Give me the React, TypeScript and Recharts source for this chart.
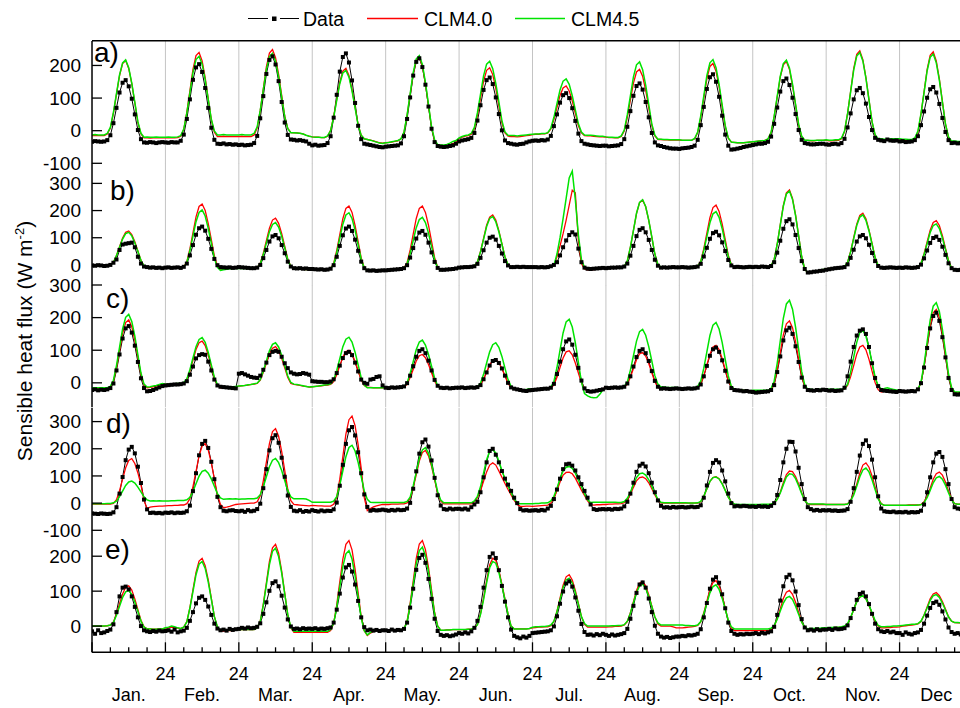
import React from 'react'
import { LineChart, Line, XAxis, YAxis, ReferenceLine } from 'recharts'

const months = ['Jan.', 'Feb.', 'Mar.', 'Apr.', 'May.', 'Jun.', 'Jul.', 'Aug.', 'Sep.', 'Oct.', 'Nov.', 'Dec']

// hourly mean diurnal cycles, one row of 24 values per month (W m-2)
const aObs = [
  [-34,-32,-33,-34,-33,-29,-14,23,70,117,147,155,136,98,50,2,-26,-36,-37,-35,-36,-38,-36,-35],
  [-36,-37,-35,-36,-36,-31,-12,36,96,156,194,204,180,131,70,9,-28,-40,-41,-39,-42,-41,-43,-42],
  [-44,-43,-45,-44,-43,-38,-16,38,106,174,217,228,203,152,88,25,-13,-27,-28,-30,-29,-31,-33,-40],
  [-45,-43,-46,-45,-44,-38,-17,40,110,181,226,237,209,154,85,15,-26,-40,-42,-44,-46,-48,-50,-51],
  [-49,-48,-47,-46,-45,-39,-17,36,102,169,211,222,195,141,74,6,-35,-47,-49,-50,-49,-47,-45,-40],
  [-33,-30,-28,-26,-22,-7,31,78,125,155,163,143,102,51,1,-30,-38,-40,-42,-43,-41,-40,-36,-33],
  [-31,-30,-31,-29,-30,-27,-16,14,50,86,109,115,100,69,30,-9,-32,-40,-42,-44,-45,-46,-47,-46],
  [-46,-48,-47,-46,-45,-41,-26,12,60,107,137,145,126,88,41,-7,-36,-45,-47,-50,-52,-54,-55,-55],
  [-56,-54,-53,-52,-50,-46,-28,17,73,128,164,173,150,104,46,-12,-46,-58,-57,-55,-53,-50,-48,-46],
  [-44,-42,-40,-40,-38,-34,-18,21,71,120,152,160,140,101,51,2,-28,-38,-40,-42,-42,-41,-40,-40],
  [-42,-43,-41,-40,-42,-38,-25,10,53,96,124,131,115,83,42,2,-22,-28,-30,-32,-27,-30,-31,-30],
  [-33,-32,-35,-34,-33,-29,-17,17,59,101,127,134,117,82,39,-4,-29,-38,-37,-39,-38,-40,-38,-38],
]
const aC40 = [
  [-15,-14,-15,-15,-15,-10,8,54,112,169,206,215,191,144,85,25,-10,-22,-22,-23,-22,-22,-22,-22],
  [-22,-21,-22,-22,-21,-17,4,57,122,188,230,240,214,163,98,34,-5,-18,-18,-17,-18,-18,-18,-18],
  [-18,-17,-18,-18,-18,-13,9,62,129,196,238,249,224,173,109,45,7,-6,-7,-7,-8,-10,-14,-17],
  [-19,-20,-20,-21,-21,-17,1,43,96,149,183,191,169,126,72,18,-14,-25,-27,-29,-31,-34,-37,-38],
  [-37,-36,-35,-33,-31,-25,-5,47,110,174,215,225,198,144,77,10,-31,-44,-45,-46,-45,-43,-40,-34],
  [-24,-20,-17,-15,-11,6,47,99,151,185,193,172,130,77,24,-7,-17,-18,-18,-19,-18,-17,-15,-14],
  [-12,-11,-11,-10,-10,-7,5,34,71,108,131,137,122,91,53,15,-7,-15,-16,-16,-17,-18,-19,-19],
  [-20,-21,-21,-22,-22,-18,-1,41,94,146,180,188,167,124,70,16,-16,-27,-27,-28,-28,-29,-29,-29],
  [-29,-30,-30,-30,-30,-25,-6,41,100,159,197,206,182,134,73,13,-23,-35,-36,-37,-37,-37,-36,-35],
  [-34,-33,-32,-31,-30,-25,-6,43,103,164,202,212,188,139,79,18,-18,-30,-30,-31,-31,-30,-30,-30],
  [-30,-31,-31,-30,-30,-25,-3,53,121,190,234,245,218,163,95,27,-14,-28,-28,-29,-29,-28,-28,-28],
  [-29,-30,-30,-31,-31,-26,-4,51,119,187,231,242,214,159,90,21,-20,-34,-34,-35,-35,-35,-35,-35],
]
const aC45 = [
  [-13,-12,-13,-13,-13,-8,10,56,114,171,208,217,193,146,87,27,-8,-20,-19,-20,-20,-19,-20,-20],
  [-20,-19,-20,-20,-19,-15,5,54,116,178,218,228,204,156,95,35,-1,-13,-13,-12,-13,-13,-13,-13],
  [-13,-12,-13,-13,-13,-8,12,62,125,187,227,237,213,164,103,43,6,-6,-6,-7,-8,-10,-14,-17],
  [-19,-20,-20,-21,-21,-16,0,41,93,144,177,185,164,122,70,17,-14,-25,-27,-29,-32,-35,-38,-39],
  [-37,-36,-34,-32,-30,-25,-4,48,113,178,220,230,203,148,80,12,-28,-42,-44,-44,-42,-38,-33,-30],
  [-22,-18,-15,-13,-8,10,55,111,168,204,213,190,145,88,31,-4,-14,-15,-15,-16,-15,-14,-13,-12],
  [-11,-10,-10,-9,-9,-6,8,41,83,125,152,159,142,107,64,21,-4,-13,-14,-14,-15,-16,-17,-17],
  [-19,-20,-20,-21,-21,-16,2,49,107,165,202,211,187,140,81,21,-14,-26,-26,-27,-27,-28,-28,-28],
  [-28,-29,-29,-29,-29,-24,-4,45,107,169,208,218,193,142,79,16,-22,-35,-36,-37,-37,-37,-36,-35],
  [-34,-33,-32,-31,-30,-25,-5,44,105,167,206,216,192,143,81,20,-17,-29,-29,-30,-30,-29,-29,-29],
  [-28,-29,-29,-28,-28,-23,-1,52,119,186,229,240,214,161,94,28,-12,-25,-25,-26,-26,-25,-25,-25],
  [-25,-26,-26,-27,-27,-22,-1,52,117,183,225,235,208,155,88,21,-19,-32,-32,-33,-33,-33,-33,-33],
]

const bObs = [
  [-2,-3,-1,-2,-4,-3,0,8,20,55,75,78,80,82,65,30,5,-6,-8,-10,-9,-11,-10,-12],
  [-10,-9,-11,-10,-9,-11,-7,5,35,73,111,135,141,126,96,59,22,-1,-8,-9,-10,-9,-11,-10],
  [-8,-9,-10,-11,-12,-12,-10,0,25,55,86,105,110,98,73,43,12,-6,-12,-13,-12,-14,-13,-15],
  [-15,-16,-17,-16,-18,-17,-14,-1,30,70,109,134,141,125,93,52,12,-12,-20,-21,-20,-22,-21,-20],
  [-20,-19,-18,-17,-16,-15,-12,-1,27,62,97,119,125,111,82,46,11,-11,-18,-18,-17,-16,-15,-13],
  [-10,-9,-8,-8,-7,-5,4,26,54,82,100,104,93,70,42,14,-2,-8,-8,-7,-8,-7,-8,-8],
  [-8,-8,-9,-8,-9,-8,-5,0,10,35,65,90,110,120,112,60,10,-10,-14,-15,-14,-13,-12,-11],
  [-12,-11,-10,-10,-9,-9,-6,5,34,70,106,129,135,120,92,55,19,-3,-10,-9,-10,-9,-8,-9],
  [-9,-8,-9,-10,-9,-8,-6,4,31,63,96,117,122,109,83,51,18,-2,-8,-7,-8,-9,-8,-7],
  [-8,-7,-8,-6,-7,-8,-4,10,45,89,133,161,168,149,110,62,14,-15,-28,-27,-25,-24,-22,-21],
  [-18,-16,-14,-12,-11,-10,-8,2,26,56,86,105,110,98,74,44,14,-4,-10,-11,-10,-9,-10,-11],
  [-10,-11,-9,-10,-11,-10,-8,1,24,53,81,99,104,92,67,37,6,-12,-18,-19,-18,-20,-19,-20],
]
const bC40 = [
  [-3,-3,-3,-3,-3,-3,0,10,35,67,99,120,125,112,85,51,17,-3,-10,-11,-11,-12,-12,-12],
  [-12,-12,-12,-12,-12,-12,-7,12,59,118,177,215,224,200,152,93,33,-3,-15,-14,-13,-13,-13,-13],
  [-13,-13,-13,-13,-13,-13,-9,6,43,89,135,165,172,153,116,69,22,-6,-15,-15,-16,-16,-17,-17],
  [-18,-18,-18,-18,-18,-18,-13,6,53,111,170,208,217,193,145,86,26,-10,-22,-22,-23,-23,-22,-22],
  [-20,-19,-18,-17,-16,-15,-10,8,55,113,171,208,217,193,146,87,27,-8,-20,-19,-18,-17,-16,-15],
  [-12,-10,-9,-8,-8,-4,11,50,98,146,176,184,165,126,78,30,2,-8,-8,-8,-8,-8,-8,-9],
  [-10,-10,-10,-10,-10,-10,-8,-3,30,70,115,165,220,275,265,90,5,-15,-18,-18,-17,-15,-13,-12],
  [-11,-10,-10,-10,-10,-10,-5,15,65,127,189,229,239,214,164,102,40,2,-10,-10,-10,-10,-10,-10],
  [-9,-9,-9,-9,-9,-9,-4,14,60,117,174,211,220,197,151,94,36,2,-10,-10,-10,-10,-10,-10],
  [-8,-8,-8,-8,-8,-8,-2,20,77,148,219,265,276,245,184,108,31,-15,-30,-28,-25,-22,-19,-17],
  [-15,-13,-12,-11,-10,-10,-6,10,50,100,150,182,190,170,129,79,28,-2,-12,-12,-11,-11,-11,-11],
  [-11,-11,-11,-11,-11,-11,-8,6,41,85,128,156,163,145,108,62,17,-11,-20,-20,-20,-20,-20,-20],
]
const bC45 = [
  [-3,-3,-3,-3,-3,-3,0,9,34,65,95,115,120,107,81,49,16,-3,-10,-11,-11,-12,-12,-12],
  [-12,-12,-12,-12,-12,-12,-8,9,52,106,159,193,202,180,135,80,24,-9,-20,-18,-16,-14,-13,-13],
  [-13,-13,-13,-13,-13,-13,-10,4,38,80,122,149,156,139,105,62,19,-6,-15,-15,-16,-16,-17,-17],
  [-18,-18,-18,-18,-18,-18,-14,3,45,98,150,184,192,171,128,74,21,-11,-22,-22,-23,-23,-22,-22],
  [-20,-19,-18,-17,-16,-15,-11,4,42,90,137,167,175,156,117,68,19,-10,-20,-19,-18,-17,-16,-15],
  [-12,-10,-9,-8,-8,-4,11,48,94,141,171,178,159,122,76,29,1,-8,-8,-8,-8,-8,-8,-9],
  [-10,-10,-10,-10,-10,-10,-8,-2,40,100,170,245,320,345,240,110,20,-10,-14,-15,-15,-14,-13,-12],
  [-10,-10,-10,-10,-10,-10,-5,15,65,127,190,230,240,215,165,103,40,2,-9,-9,-9,-9,-9,-9],
  [-9,-9,-9,-9,-9,-9,-5,12,53,104,155,188,196,175,134,82,31,0,-10,-10,-10,-10,-10,-10],
  [-8,-8,-8,-8,-8,-8,-2,19,76,146,216,261,272,241,181,106,30,-15,-30,-28,-25,-22,-19,-17],
  [-15,-13,-12,-11,-10,-10,-6,9,48,97,145,176,184,164,125,76,27,-2,-12,-12,-11,-11,-11,-11],
  [-11,-11,-11,-11,-11,-11,-8,5,38,78,119,145,151,134,99,57,14,-12,-20,-20,-20,-20,-20,-20],
]

const cObs = [
  [-22,-20,-23,-21,-22,-20,-16,-2,38,87,136,167,174,154,114,64,14,-16,-26,-25,-22,-18,-14,-10],
  [-8,-7,-6,-5,-5,-4,-2,5,25,50,75,85,88,86,65,38,10,-8,-12,-13,-14,-15,-16,-17],
  [28,30,26,22,18,16,15,22,40,62,85,95,98,95,80,60,45,32,28,26,27,30,28,25],
  [5,4,3,3,2,2,4,11,30,53,76,91,95,85,62,35,10,0,-3,10,12,18,20,-8],
  [-15,-16,-14,-15,-14,-13,-11,-1,22,51,80,98,103,91,68,38,9,-9,-15,-16,-15,-17,-16,-15],
  [-15,-14,-16,-15,-14,-15,-13,-7,11,32,53,67,70,61,44,22,0,-14,-18,-20,-22,-24,-25,-23],
  [-22,-21,-20,-19,-18,-18,-15,-3,27,65,103,127,133,117,86,46,7,-17,-25,-27,-26,-24,-22,-20],
  [-15,-16,-15,-14,-15,-14,-12,-2,20,50,79,98,103,91,67,36,6,-12,-18,-17,-18,-19,-18,-17],
  [-18,-19,-18,-17,-18,-17,-15,-5,20,52,83,103,108,95,69,37,4,-16,-22,-23,-24,-26,-25,-27],
  [-28,-30,-29,-28,-27,-26,-22,-7,33,81,130,161,169,150,112,64,16,-12,-22,-23,-24,-22,-23,-21],
  [-22,-24,-23,-25,-24,-23,-15,20,65,110,145,160,164,150,110,60,15,-10,-22,-24,-25,-26,-27,-28],
  [-25,-26,-27,-26,-25,-26,-20,-1,47,107,167,205,215,190,140,78,15,-22,-35,-36,-35,-37,-36,-35],
]
const cC40 = [
  [-17,-17,-17,-17,-17,-17,-13,4,46,99,151,185,193,172,130,78,25,-7,-15,-14,-12,-10,-7,-4],
  [-5,-5,-4,-4,-3,-3,0,10,36,69,102,123,128,114,85,49,14,-8,-15,-15,-15,-15,-14,-13],
  [-10,-9,-8,-7,-5,-4,-2,8,32,60,89,106,111,99,75,46,16,-2,-5,-6,-8,-10,-11,-13],
  [-12,-11,-10,-9,-8,-7,-5,4,25,52,79,96,100,89,66,37,9,-8,-14,-14,-15,-15,-15,-15],
  [-15,-15,-15,-15,-15,-15,-13,-5,16,41,67,83,87,77,56,31,5,-10,-15,-15,-15,-15,-15,-15],
  [-15,-15,-15,-15,-15,-15,-13,-6,11,33,55,69,72,63,44,21,-2,-15,-20,-21,-22,-22,-21,-20],
  [-20,-20,-19,-19,-18,-18,-16,-6,17,47,76,95,98,86,61,30,0,-19,-25,-27,-28,-26,-22,-18],
  [-15,-15,-15,-15,-15,-15,-13,-4,17,44,71,89,93,82,59,31,3,-14,-20,-20,-20,-20,-20,-20],
  [-18,-18,-18,-18,-18,-18,-15,-5,22,55,88,110,115,102,75,41,7,-13,-20,-21,-22,-23,-24,-25],
  [-25,-25,-26,-26,-25,-25,-21,-4,40,93,147,181,190,169,126,73,20,-11,-22,-22,-22,-22,-22,-22],
  [-22,-22,-22,-22,-22,-22,-19,-8,19,53,88,110,115,101,72,36,1,-21,-28,-26,-25,-24,-24,-25],
  [-25,-25,-25,-25,-25,-25,-20,0,50,113,175,215,225,200,149,85,21,-17,-30,-30,-30,-30,-30,-30],
]
const cC45 = [
  [-15,-15,-15,-15,-15,-15,-11,8,53,109,165,201,210,188,143,86,30,-4,-13,-12,-10,-8,-5,-2],
  [-4,-4,-3,-3,-2,-2,1,12,40,76,111,133,139,124,93,55,17,-5,-13,-13,-13,-13,-12,-11],
  [-10,-9,-8,-6,-5,-3,-1,10,36,67,98,118,123,110,85,53,21,1,-4,-5,-7,-9,-11,-13],
  [-12,-11,-10,-8,-7,-6,-3,9,38,74,111,134,140,125,94,55,16,-7,-15,-15,-15,-15,-15,-15],
  [-15,-15,-15,-15,-15,-15,-12,0,29,65,102,125,131,116,87,51,14,-8,-15,-15,-15,-15,-15,-15],
  [-15,-15,-15,-15,-15,-15,-12,-1,26,61,95,117,123,109,81,45,10,-11,-18,-20,-22,-22,-20,-18],
  [-20,-19,-18,-18,-17,-17,-13,4,47,100,153,187,195,171,123,63,3,-33,-40,-44,-46,-45,-35,-22],
  [-15,-15,-15,-15,-15,-15,-11,3,39,83,128,157,164,146,111,67,22,-4,-13,-13,-14,-14,-14,-14],
  [-15,-15,-15,-15,-15,-15,-11,5,45,95,145,177,185,165,124,72,21,-10,-20,-21,-22,-23,-24,-25],
  [-23,-23,-23,-23,-23,-23,-17,5,60,129,198,242,253,226,171,103,35,-6,-20,-20,-21,-21,-20,-20],
  [-20,-20,-20,-20,-20,-20,-18,-4,33,79,124,154,161,143,107,63,18,-9,-18,-17,-15,-18,-20,-22],
  [-25,-25,-25,-24,-24,-24,-20,2,56,124,192,235,246,219,164,95,27,-14,-28,-28,-28,-28,-28,-28],
]

const dObs = [
  [-38,-39,-40,-38,-39,-40,-39,-34,-15,35,96,158,197,207,183,134,74,13,-23,-36,-35,-37,-36,-38],
  [-35,-36,-34,-37,-35,-36,-35,-30,-9,44,110,176,218,229,203,152,88,23,-15,-28,-30,-27,-26,-29],
  [-30,-28,-32,-26,-30,-28,-22,-2,55,125,194,239,250,222,167,97,28,-14,-28,-30,-26,-32,-29,-31],
  [-26,-29,-31,-27,-30,-28,-29,-23,2,64,141,218,268,280,249,187,110,32,-14,-28,-25,-27,-26,-24],
  [-26,-28,-25,-27,-24,-26,-25,-20,1,53,117,182,224,234,208,157,93,29,-9,-22,-24,-20,-23,-21],
  [-21,-23,-20,-24,-15,-5,5,40,95,150,192,200,178,150,118,90,68,45,20,0,-22,-27,-26,-28],
  [-27,-26,-28,-25,-27,-20,-10,15,50,90,125,143,145,138,120,95,70,45,20,-5,-22,-25,-23,-22],
  [-23,-22,-24,-21,-22,-20,-12,5,35,75,115,138,145,135,110,75,40,10,-10,-16,-15,-17,-14,-16],
  [-15,-14,-16,-15,-13,-15,-14,-8,20,65,115,148,158,150,120,80,35,0,-12,-10,-12,-10,-11,-13],
  [-12,-14,-11,-13,-12,-14,-10,0,30,85,150,200,226,225,190,130,70,15,-15,-22,-27,-25,-28,-26],
  [-27,-26,-28,-27,-29,-28,-27,-22,5,55,115,175,218,231,210,160,95,25,-20,-30,-32,-33,-31,-34],
  [-33,-34,-32,-35,-33,-34,-33,-28,-5,40,95,150,182,188,170,125,70,15,-15,-20,-22,-21,-20,-21],
]
const dC40 = [
  [-4,-4,-4,-4,-4,-4,-4,-1,13,46,88,130,157,164,146,111,67,10,-20,-15,-13,-12,-11,-11],
  [-10,-9,-9,-8,-8,-7,-7,-2,16,61,117,174,210,219,195,148,89,30,-5,-17,-15,-12,-8,-5],
  [-4,-3,-2,-1,0,0,5,27,82,151,219,263,274,246,190,121,51,9,-5,-6,-7,-8,-9,-10],
  [-8,-9,-10,-10,-11,-11,-11,-4,22,88,171,254,307,320,285,215,128,20,-28,-20,-14,-10,-7,-5],
  [-5,-5,-4,-4,-4,-3,-3,1,17,56,105,155,186,194,174,135,86,36,7,-3,-3,-3,-3,-3],
  [-3,-3,-3,-3,-3,5,20,45,80,115,140,148,140,118,95,72,50,30,10,-5,-12,-12,-11,-11],
  [-12,-11,-10,-9,-8,-7,0,18,45,78,103,113,114,108,92,70,48,28,8,-5,-7,-6,-6,-5],
  [-5,-4,-4,-3,-3,-2,2,12,32,58,82,94,96,90,75,53,30,10,1,0,0,0,0,0],
  [0,0,0,0,0,0,0,5,25,52,80,94,97,90,72,48,22,5,-5,-8,-10,-10,-10,-10],
  [-10,-9,-8,-8,-7,-6,-5,0,15,40,75,105,118,116,98,70,38,10,-3,-5,-5,-5,-5,-5],
  [-5,-5,-5,-5,-5,-5,-5,-3,10,35,70,110,140,148,132,100,60,20,-2,-8,-8,-8,-8,-8],
  [-8,-8,-8,-7,-7,-7,-7,-5,5,25,55,88,108,114,103,78,45,15,-2,-4,-4,-4,-4,-4],
]
const dC45 = [
  [-2,-2,-2,-2,-2,-1,-1,1,7,24,44,65,78,81,74,59,41,23,12,8,9,8,9,8],
  [8,8,9,9,10,10,10,12,21,43,71,99,117,121,110,89,62,35,19,14,15,16,15,16],
  [14,15,15,16,16,16,19,31,60,97,134,158,164,149,120,83,46,23,16,16,16,16,15,10],
  [3,3,3,3,3,3,3,7,24,66,119,171,205,213,192,150,98,45,14,3,2,2,2,2],
  [2,2,2,2,2,2,2,6,22,63,113,164,196,204,184,143,92,42,11,1,1,1,1,1],
  [1,1,1,1,1,8,25,60,110,160,192,197,185,155,120,90,62,38,15,0,-2,-2,-2,-2],
  [-2,-1,-1,0,0,1,8,25,55,90,118,132,135,128,110,85,60,35,12,2,3,3,3,3],
  [3,3,3,3,2,2,6,18,40,68,94,108,111,103,86,62,36,14,3,1,1,1,1,1],
  [1,1,1,0,0,0,1,6,26,53,80,94,96,89,71,47,22,4,-3,-5,-5,-5,-5,-5],
  [-5,-5,-5,-4,-4,-4,-3,0,14,37,68,96,108,106,90,64,35,9,-2,-3,-3,-3,-3,-3],
  [-5,-5,-5,-5,-5,-5,-5,-3,8,30,62,97,122,129,115,86,50,15,-3,-8,-8,-8,-8,-8],
  [-8,-8,-8,-8,-8,-8,-7,-6,2,20,47,75,93,98,88,66,38,12,-2,-4,-4,-4,-4,-4],
]

const eObs = [
  [-15,-22,-12,-20,-18,-14,-10,5,40,85,110,113,105,85,55,25,0,-12,-15,-17,-14,-16,-13,-15],
  [-14,-12,-16,-10,-18,-15,-13,-5,15,40,65,81,85,75,56,32,7,-7,-12,-10,-13,-8,-11,-9],
  [-8,-5,-7,-4,-6,-5,-2,8,35,68,101,123,128,114,87,53,19,-1,-8,-7,-9,-6,-8,-7],
  [-8,-6,-9,-7,-8,-6,-4,10,47,93,139,168,175,156,119,72,25,-3,-12,-10,-13,-11,-14,-12],
  [-12,-14,-10,-13,-11,-12,-8,10,53,107,161,195,204,181,135,78,21,-14,-25,-28,-26,-29,-27,-24],
  [-20,-22,-18,-21,-15,-5,15,55,110,160,198,208,195,160,115,70,25,-10,-28,-32,-35,-30,-33,-28],
  [-20,-19,-18,-17,-16,-15,-12,-1,28,64,99,122,128,113,82,44,6,-17,-25,-24,-27,-23,-26,-22],
  [-25,-28,-24,-27,-25,-23,-20,-8,21,58,95,119,125,110,79,40,1,-22,-30,-33,-31,-34,-32,-30],
  [-30,-28,-29,-26,-27,-25,-22,-9,25,66,107,133,140,124,91,51,10,-14,-22,-25,-23,-24,-22,-23],
  [-22,-20,-23,-19,-21,-18,-15,-2,32,73,114,140,147,131,99,60,20,-4,-12,-10,-13,-9,-12,-10],
  [-10,-8,-11,-7,-9,-8,-6,2,23,49,75,92,96,85,63,35,7,-9,-15,-17,-14,-18,-16,-20],
  [-20,-25,-18,-22,-24,-20,-18,-11,7,30,52,66,70,61,42,19,-4,-17,-22,-20,-24,-21,-23,-22],
]
const eC40 = [
  [0,0,0,0,0,1,3,12,35,64,92,111,115,103,78,47,17,-2,-8,-8,-9,-9,-8,-8],
  [-6,-5,-3,-5,-6,-7,-3,13,53,104,154,186,194,173,132,80,28,-4,-14,-14,-13,-13,-13,-12],
  [-10,-10,-10,-10,-10,-10,-5,14,63,124,185,224,234,209,158,95,32,-5,-18,-18,-18,-18,-18,-18],
  [-18,-18,-18,-18,-18,-18,-13,8,61,127,192,234,245,218,163,95,27,-13,-27,-20,-15,-13,-12,-12],
  [-12,-12,-12,-12,-12,-12,-7,14,65,129,194,235,245,219,168,104,39,1,-12,-12,-11,-11,-10,-10],
  [-10,-10,-10,-9,-8,-6,5,35,80,130,175,194,188,160,120,78,35,0,-8,-8,-8,-8,-8,-7],
  [-5,-4,-3,-3,-2,-2,1,13,43,80,117,141,147,132,102,65,27,5,-3,-3,-3,-3,-3,-3],
  [-3,-2,-2,-1,-1,0,3,13,38,70,102,123,128,115,90,58,26,6,0,0,0,0,-2,-5],
  [-5,-5,-4,-3,-2,-1,2,12,38,71,104,125,130,116,87,51,16,-6,-13,-13,-13,-13,-13,-13],
  [-13,-13,-13,-13,-13,-13,-11,-2,22,50,79,97,102,91,68,40,12,-4,-10,-9,-9,-8,-8,-7],
  [-6,-5,-5,-4,-4,-3,-1,6,24,47,69,83,87,78,59,36,13,0,-5,-5,-4,-4,-3,-3],
  [-2,0,1,2,3,4,6,13,32,55,78,92,96,87,70,49,27,14,10,9,9,8,8,8],
]
const eC45 = [
  [0,0,0,0,0,1,3,11,31,57,82,98,102,91,69,42,14,-3,-8,-8,-9,-9,-8,-8],
  [-5,-3,0,-2,-5,-7,-3,12,51,99,147,177,185,165,126,77,27,-2,-12,-12,-12,-12,-12,-11],
  [-10,-10,-10,-10,-10,-10,-5,13,60,118,176,214,223,199,152,92,33,-3,-15,-15,-15,-15,-15,-15],
  [-15,-15,-15,-15,-15,-15,-10,8,54,112,170,207,216,192,144,83,23,-13,-25,-18,-14,-12,-11,-11],
  [-12,-12,-12,-12,-12,-12,-7,12,59,119,178,216,226,202,155,95,36,0,-12,-12,-11,-11,-10,-10],
  [-10,-10,-10,-9,-8,-6,4,33,76,124,167,185,180,154,116,75,34,0,-8,-8,-8,-8,-8,-7],
  [-3,-2,-2,-1,-1,0,3,14,41,75,110,132,137,123,96,62,27,7,0,0,0,0,0,0],
  [0,0,1,1,2,2,4,14,37,67,96,115,120,108,85,56,26,9,3,3,3,3,3,3],
  [3,3,2,2,1,1,3,13,36,65,95,113,118,105,80,49,17,-2,-8,-8,-8,-8,-8,-8],
  [-8,-8,-8,-8,-8,-8,-6,1,20,43,66,81,85,76,57,34,11,-3,-8,-7,-7,-6,-6,-5],
  [-5,-4,-4,-3,-3,-2,0,7,25,47,69,83,87,78,60,38,16,2,-2,-2,-1,-1,0,0],
  [1,2,3,4,5,5,7,14,31,52,73,87,90,82,66,46,26,14,10,10,9,9,9,9],
]

const FONT = '"Liberation Sans", Arial, Helvetica, sans-serif'
const PLOT_LEFT = 92
const CHART_W = 973
const PLOT_H = 122.3
const PAD = 14
const AXIS_H = 56
const GREEN = '#00e400'
const RED = '#ff0000'

const panels = [
  { id: 'a', top: 40.7, domain: [-100, 275], ticks: [-100, 0, 100, 200], obs: aObs, c40: aC40, c45: aC45, lx: 94, ly: 62 },
  { id: 'b', top: 163, domain: [-75, 375], ticks: [0, 100, 200, 300], obs: bObs, c40: bC40, c45: bC45, lx: 110, ly: 200 },
  { id: 'c', top: 285.3, domain: [-75, 300], ticks: [0, 100, 200, 300], obs: cObs, c40: cC40, c45: cC45, lx: 106, ly: 308 },
  { id: 'd', top: 407.6, domain: [-100, 350], ticks: [-100, 0, 100, 200, 300], obs: dObs, c40: dC40, c45: dC45, lx: 106, ly: 433 },
  { id: 'e', top: 529.9, domain: [-75, 275], ticks: [0, 100, 200], obs: eObs, c40: eC40, c45: eC45, lx: 105, ly: 559 },
]

const hourTicks = months.flatMap((_, m) => [0, 6, 12, 18].map((h) => m * 24 + h)).concat(288)

function buildRows(obs: number[][], c40: number[][], c45: number[][]) {
  const rows: any[] = []
  months.forEach((_, m) => {
    for (let h = 0; h < 24; h++) {
      rows.push({ t: m * 24 + h, obs: obs[m][h], c40: c40[m][h], c45: c45[m][h] })
    }
  })
  return rows
}

const XTick = ({ x, y, payload, last }: any) => {
  const v = payload.value
  const major = v % 24 === 0
  return (
    <g>
      <line x1={x} x2={x} y1={y} y2={y - (major ? 10 : 5)} stroke="#000" strokeWidth={1.3} />
      {last && major && v > 0 && v < 288 && (
        <text x={x} y={y + 28} textAnchor="middle" fontSize={18} fontFamily={FONT} fill="#000">24</text>
      )}
      {last && v % 24 === 12 && (
        <text x={x} y={y + 49} textAnchor="middle" fontSize={18} fontFamily={FONT} fill="#000">{months[Math.floor(v / 24)]}</text>
      )}
    </g>
  )
}

const YTick = ({ x, y, payload }: any) => (
  <g>
    <line x1={x} x2={x + 10} y1={y} y2={y} stroke="#000" strokeWidth={1.3} />
    <text x={x - 11} y={y} dy="0.35em" textAnchor="end" fontSize={19} fontFamily={FONT} fill="#000">{payload.value}</text>
  </g>
)

const squareDot = (p: any) => {
  if (p.cx == null || p.cy == null) return <g key={`n${p.index}`} />
  return <rect key={`s${p.index}`} x={p.cx - 2} y={p.cy - 2} width={4} height={4} fill="#000" />
}

function Panel({ p, last }: { p: any; last: boolean }) {
  const rows = buildRows(p.obs, p.c40, p.c45)
  const h = PAD + PLOT_H + (last ? AXIS_H : PAD)
  return (
    <div style={{ position: 'absolute', left: 0, top: p.top - PAD }}>
      <LineChart width={CHART_W} height={h} data={rows} margin={{ top: PAD, right: 0, bottom: last ? 0 : PAD, left: 0 }}>
        {months.slice(1).map((_, i) => (
          <ReferenceLine key={i} x={(i + 1) * 24} stroke="#c4c4c4" strokeWidth={1} />
        ))}
        <XAxis
          dataKey="t"
          type="number"
          domain={[0, 288]}
          ticks={hourTicks}
          interval={0}
          allowDataOverflow
          height={last ? AXIS_H : 0}
          tickSize={0}
          tickMargin={0}
          tickLine={false}
          axisLine={{ stroke: '#000', strokeWidth: 1.5 }}
          tick={(tp: any) => <XTick {...tp} last={last} />}
        />
        <YAxis
          type="number"
          domain={p.domain}
          ticks={p.ticks}
          interval={0}
          allowDataOverflow
          width={PLOT_LEFT}
          tickSize={0}
          tickMargin={0}
          tickLine={false}
          axisLine={{ stroke: '#000', strokeWidth: 1.5 }}
          tick={<YTick />}
        />
        <Line type="linear" dataKey="obs" stroke="#000" strokeWidth={1} dot={squareDot} activeDot={false} isAnimationActive={false} />
        <Line type="linear" dataKey="c40" stroke={RED} strokeWidth={1.3} dot={false} activeDot={false} isAnimationActive={false} />
        <Line type="linear" dataKey="c45" stroke={GREEN} strokeWidth={1.5} dot={false} activeDot={false} isAnimationActive={false} />
      </LineChart>
    </div>
  )
}

export default function App() {
  return (
    <div style={{ position: 'fixed', left: 0, top: 0, width: 960, height: 708, overflow: 'hidden', background: '#fff' }}>
      {panels.map((p, i) => (
        <Panel key={p.id} p={p} last={i === panels.length - 1} />
      ))}
      <svg width={960} height={708} style={{ position: 'absolute', left: 0, top: 0, pointerEvents: 'none' }} fontFamily={FONT}>
        <line x1={PLOT_LEFT} x2={960} y1={40.7} y2={40.7} stroke="#000" strokeWidth={1.5} />
        <g fontSize={19.5} fill="#000">
          <line x1={248} x2={268} y1={18.5} y2={18.5} stroke="#000" strokeWidth={1} />
          <rect x={272} y={16.5} width={4.5} height={4.5} fill="#000" />
          <line x1={280} x2={299} y1={18.5} y2={18.5} stroke="#000" strokeWidth={1} />
          <text x={303} y={26}>Data</text>
          <line x1={367} x2={418} y1={18.5} y2={18.5} stroke={RED} strokeWidth={1.3} />
          <text x={424} y={26}>CLM4.0</text>
          <line x1={515} x2={565} y1={18.5} y2={18.5} stroke={GREEN} strokeWidth={1.5} />
          <text x={571} y={26}>CLM4.5</text>
        </g>
        {panels.map((p) => (
          <text key={p.id} x={p.lx} y={p.ly} fontSize={28} fill="#000">{p.id + ')'}</text>
        ))}
        <text transform="translate(31.5,341) rotate(-90)" textAnchor="middle" fontSize={21} fill="#000">
          Sensible heat flux (W m<tspan dy={-8} fontSize={13}>-2</tspan><tspan dy={8}>)</tspan>
        </text>
      </svg>
    </div>
  )
}
